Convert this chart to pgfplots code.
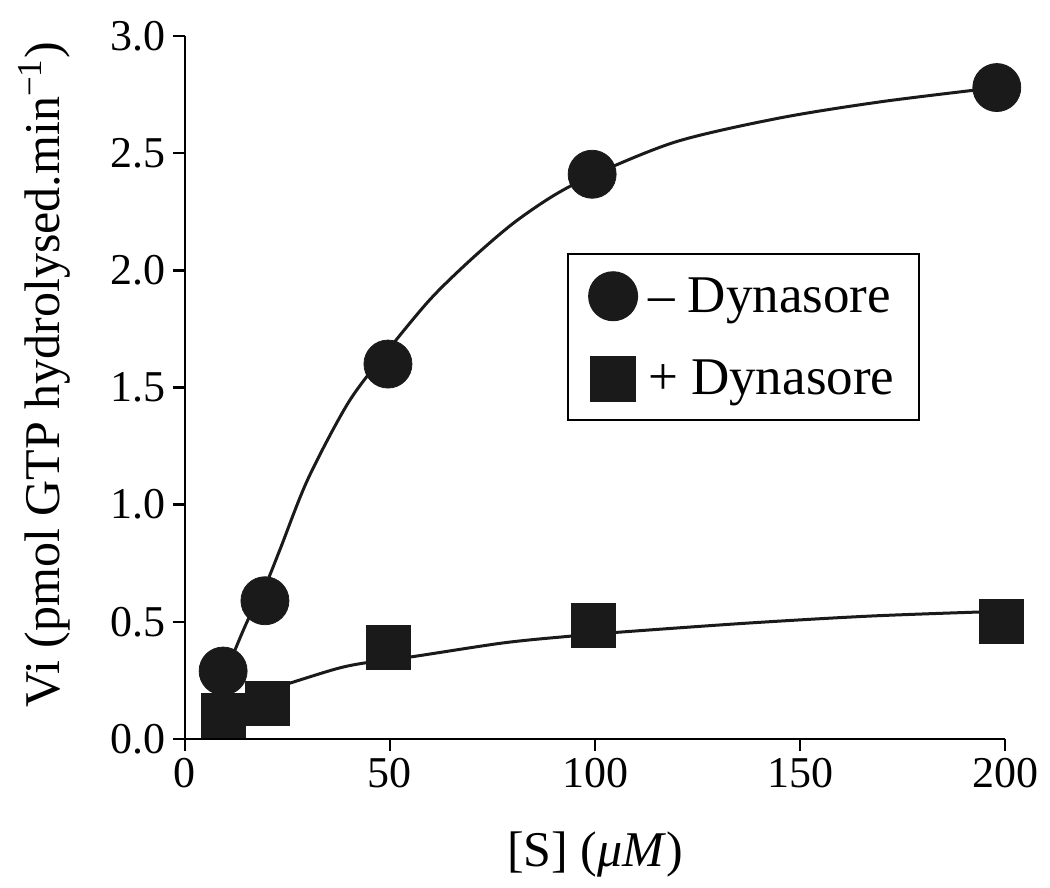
\documentclass[border=0pt]{standalone}
\usepackage{fontspec}
\setmainfont{Liberation Serif}
\usepackage{pgfplots}
\pgfplotsset{compat=1.18}
\definecolor{ink}{HTML}{1A1A1A}
\pgfplotsset{onemark/.style={legend image code/.code={\draw[##1] plot coordinates {(16pt,0pt)};}}}

\begin{document}
\begin{tikzpicture}
\useasboundingbox (-92.5pt,-74.5pt) rectangle (432.5pt,369.5pt);
\begin{axis}[
    scale only axis,
    width=410pt, height=351.5pt,
    xmin=0, xmax=200, ymin=0, ymax=3,
    axis lines*=left,
    axis line style={line width=1.4pt},
    xtick={0,50,100,150,200},
    ytick={0,0.5,1,1.5,2,2.5,3},
    tick align=outside,
    major tick length=6pt,
    every tick/.style={line width=1.2pt, black},
    tick label style={font=\fontsize{22}{26}\selectfont},
    /pgf/number format/assume math mode=true,
    y tick label style={/pgf/number format/.cd, fixed, fixed zerofill, precision=1, /tikz/.cd},
    xlabel={[S] (\textit{μM})},
    ylabel={Vi (pmol GTP hydrolysed.min\textsuperscript{−1})},
    label style={font=\fontsize{25}{30}\selectfont},
    xlabel style={at={(axis description cs:0.5,-0.165)}, anchor=center},
    ylabel style={at={(axis description cs:-0.171,0.518)}, anchor=center},
    legend style={at={(rel axis cs:0.466,0.691)}, anchor=north west,
      draw=black, line width=1pt, font=\fontsize{26.5}{30}\selectfont,
      row sep=18pt, column sep=3.5pt, inner xsep=10.5pt, inner ysep=9pt,
      cells={anchor=west}},
    clip=false,
]
% fitted curves
\addplot[ink, line width=1.5pt, smooth, forget plot] coordinates {
  (9.5,0.26) (12.2,0.38) (15.4,0.51) (19.5,0.65) (23.2,0.81) (30,1.11)
  (40,1.44) (50,1.67) (60,1.88) (70,2.05) (80,2.20)
  (90,2.32) (100,2.41) (120,2.55) (145,2.65) (170,2.72) (198,2.78)};
\addplot[ink, line width=1.5pt, smooth, forget plot] coordinates {
  (10,0.12) (15,0.17) (20,0.205) (25,0.235) (37,0.30) (44,0.325) (55,0.35)
  (77.6,0.41) (93.5,0.438) (107.6,0.458) (137.6,0.495) (167.6,0.525) (199,0.545)};
% measured points
\addplot[only marks, mark=*, mark size=12pt, draw=ink, fill=ink, onemark] coordinates {
  (9.3,0.29) (19.5,0.59) (49.5,1.60) (99.3,2.41) (198,2.78)};
\addplot[only marks, mark=square*, mark size=11pt, draw=ink, fill=ink, onemark] coordinates {
  (9.3,0.10) (20,0.15) (49.6,0.39) (99.6,0.485) (199,0.50)};
\legend{– Dynasore, + Dynasore}
\end{axis}
\end{tikzpicture}
\end{document}
